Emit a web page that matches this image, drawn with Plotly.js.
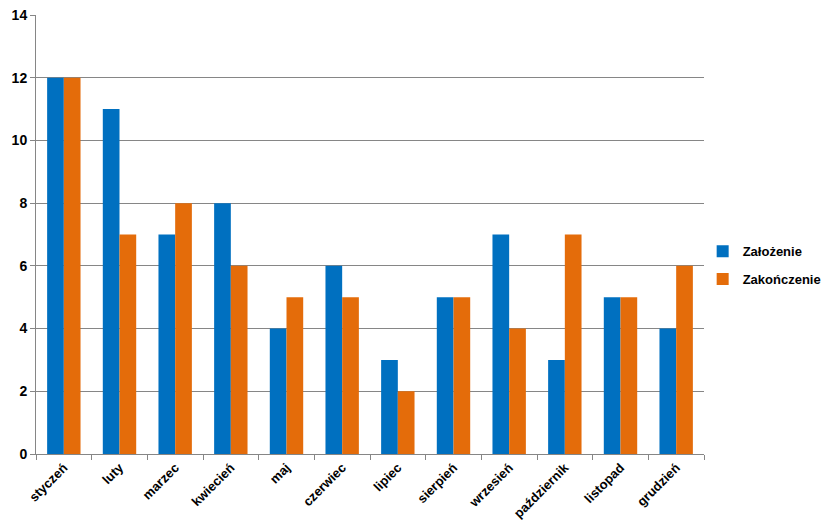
<!DOCTYPE html>
<html><head><meta charset="utf-8">
<script src="https://cdn.plot.ly/plotly-3.0.1.min.js"></script>
<style>html,body{margin:0;padding:0;background:#fff}#chart{width:828px;height:528px}</style>
</head><body><div id="chart"></div>
<script>
const months = ["styczeń","luty","marzec","kwiecień","maj","czerwiec","lipiec","sierpień","wrzesień","październik","listopad","grudzień"];
const zalozenie = [12, 11, 7, 8, 4, 6, 3, 5, 7, 3, 5, 4];
const zakonczenie = [12, 7, 8, 6, 5, 5, 2, 5, 4, 7, 5, 6];
const yTicks = [0, 2, 4, 6, 8, 10, 12, 14];

const font = {family: "Liberation Sans, Arial, sans-serif", size: 13, color: "#000"};
Plotly.newPlot("chart", [
  {type: "bar", name: "Założenie", legendgroup: "a", x: months, y: zalozenie, marker: {color: "#0070C0"}},
  {type: "bar", name: "Zakończenie", legendgroup: "b", x: months, y: zakonczenie, marker: {color: "#E46C0A"}}
], {
  width: 828, height: 528,
  margin: {l: 36, r: 124, t: 15, b: 74, autoexpand: false},
  paper_bgcolor: "#fff", plot_bgcolor: "#fff",
  barmode: "group", bargap: 0.4, bargroupgap: 0,
  font: font,
  xaxis: {
    tickangle: -45, tickson: "boundaries", ticks: "outside", ticklen: 5, tickcolor: "#868686",
    showline: true, linecolor: "#868686", linewidth: 1, showgrid: false, automargin: false,
    tickfont: {family: "Liberation Sans, Arial, sans-serif", size: 13, color: "#000", weight: "bold"}
  },
  yaxis: {
    range: [0, 14], tickvals: yTicks, ticktext: yTicks.map(String), automargin: false,
    ticks: "outside", ticklen: 5, tickcolor: "#868686",
    showline: true, linecolor: "#868686", linewidth: 1,
    showgrid: true, gridcolor: "#868686", gridwidth: 1, zeroline: false,
    tickfont: {family: "Liberation Sans, Arial, sans-serif", size: 14, color: "#000", weight: "bold"}
  },
  legend: {
    x: 0.998, xanchor: "left", y: 0.43, yanchor: "middle",
    bgcolor: "rgba(0,0,0,0)",
    font: {family: "Liberation Sans, Arial, sans-serif", size: 13, color: "#000", weight: "bold"},
    tracegroupgap: 8, itemwidth: 30
  },
  showlegend: true
}, {displayModeBar: false, staticPlot: true});
</script></body></html>
